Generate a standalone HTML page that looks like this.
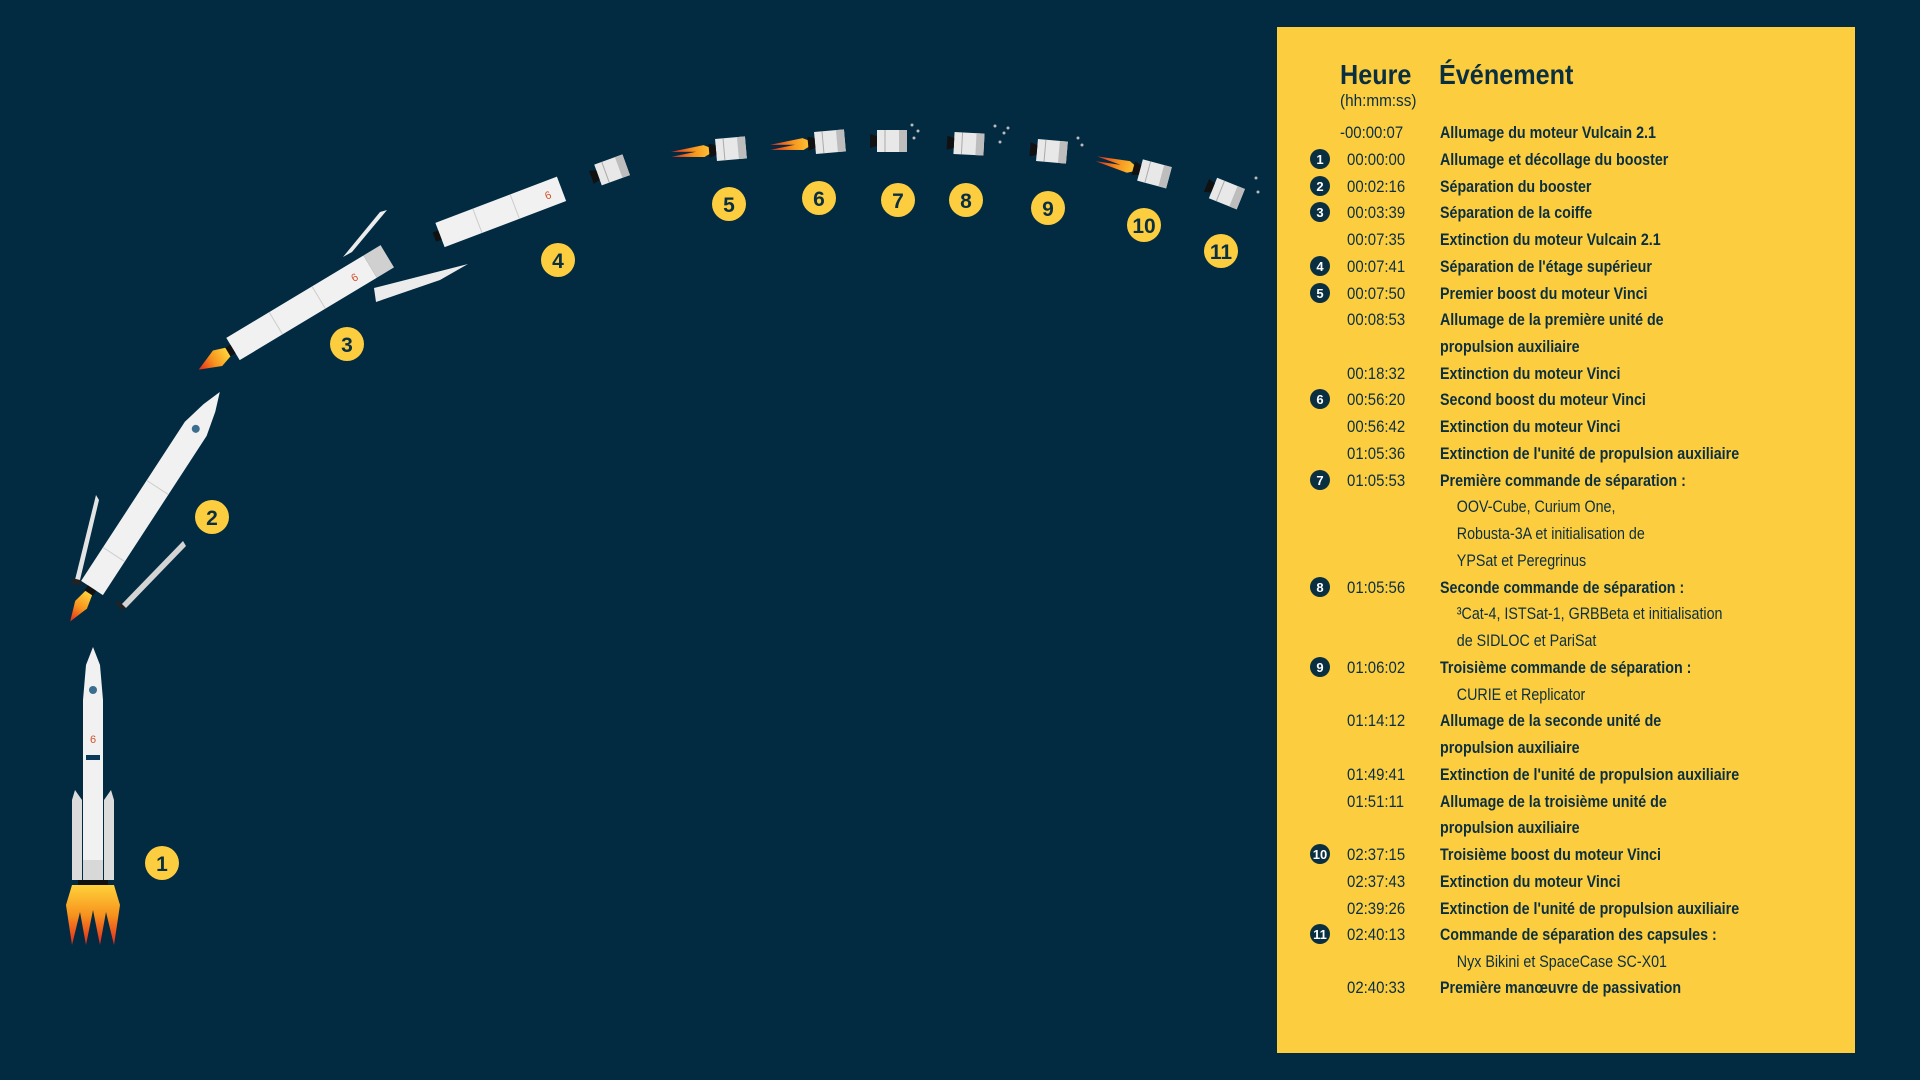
<!DOCTYPE html>
<html><head><meta charset="utf-8"><style>
html,body{margin:0;padding:0;background:#022b42;}
svg{display:block}
.t{font-family:"Liberation Sans",sans-serif;font-size:17px;fill:#0a2f40}
.b{font-weight:bold}
.n{font-family:"Liberation Sans",sans-serif;font-weight:bold;font-size:21px;fill:#0a2f40;text-anchor:middle}
.m{font-family:"Liberation Sans",sans-serif;font-weight:bold;font-size:13px;fill:#fff;text-anchor:middle}
</style></head><body>
<svg width="1920" height="1080" viewBox="0 0 1920 1080" xmlns="http://www.w3.org/2000/svg">
<defs>
<linearGradient id="fl" x1="0" y1="0" x2="0" y2="1"><stop offset="0" stop-color="#ffd23a"/><stop offset=".5" stop-color="#f7931e"/><stop offset="1" stop-color="#e4261c"/></linearGradient>
<linearGradient id="flh" x1="1" y1="0" x2="0" y2="0"><stop offset="0" stop-color="#ffd23a"/><stop offset=".5" stop-color="#f7931e"/><stop offset="1" stop-color="#e4261c"/></linearGradient>
<g id="us"><rect x="0" y="-11" width="30" height="22" fill="#e8e8e8"/><rect x="22" y="-11" width="8" height="22" fill="#bdbdbd"/><line x1="8" y1="-11" x2="8" y2="11" stroke="#aaa"/><polygon points="0,-5 -7,-7 -7,7 0,5" fill="#111"/></g>
<g id="fh"><polygon points="0,0 -12,-6 -45,-2 -20,0 -45,3 -12,6" fill="url(#flh)"/></g>
</defs>
<rect width="1920" height="1080" fill="#022b42"/>
<rect x="1277" y="27" width="578" height="1026" fill="#fdcd40"/>

<g>
<polygon points="93,647 86,665 83,700 83,870 103,870 103,700 100,665" fill="#f1f1f1"/>
<polygon points="75,790 72,800 72,880 82,880 82,800" fill="#dcdcdc"/>
<polygon points="111,790 114,800 114,880 104,880 104,800" fill="#dcdcdc"/>
<rect x="83" y="860" width="20" height="20" fill="#d8d8d8"/>
<circle cx="93" cy="690" r="4" fill="#3a6d8e"/>
<text x="93" y="743" font-family="Liberation Sans" font-size="11" fill="#d4502a" text-anchor="middle">6</text>
<rect x="86" y="755" width="14" height="5" fill="#0a3a5a"/>
<rect x="78" y="880" width="30" height="5" fill="#111"/>
<polygon points="72,885 66,905 72,945 80,912 86,945 93,910 100,945 106,912 114,945 120,905 114,885" fill="url(#fl)"/>
</g>
<circle cx="162" cy="863" r="17" fill="#fdcd40"/><text class="n" x="162" y="871">1</text>

<g transform="translate(92,588) rotate(-56.9)">
<polygon points="0,-13 190,-13 215,-7 234,0 215,7 190,13 0,13" fill="#f1f1f1"/>
<line x1="40" y1="-13" x2="40" y2="13" stroke="#ccc"/><line x1="120" y1="-13" x2="120" y2="13" stroke="#ccc"/>
<circle cx="190" cy="0" r="4" fill="#3a6d8e"/>
<rect x="-6" y="-5" width="6" height="10" fill="#111"/>
<polygon points="-6,-4 -20,-7 -40,0 -20,7 -6,4" fill="url(#flh)"/>
</g>
<polygon points="74,584 96,495 99,500 80,580" fill="#e4e4e4"/><polygon points="72,578 80,580 82,585 72,584" fill="#222"/>
<polygon points="120,606 183,541 186,546 126,608" fill="#d4d4d4"/><polygon points="118,600 126,608 122,610 116,604" fill="#222"/>
<circle cx="212" cy="517" r="17" fill="#fdcd40"/><text class="n" x="212" y="525">2</text>

<g transform="translate(233,349) rotate(-31)">
<rect x="0" y="-13" width="160" height="26" fill="#f1f1f1"/><rect x="160" y="-13" width="20" height="26" fill="#d0d0d0"/>
<line x1="50" y1="-13" x2="50" y2="13" stroke="#ccc"/><line x1="100" y1="-13" x2="100" y2="13" stroke="#ccc"/>
<text x="138" y="5" font-family="Liberation Sans" font-size="11" fill="#d4502a">6</text>
<rect x="-6" y="-5" width="6" height="10" fill="#111"/>
<polygon points="-6,-5 -18,-9 -40,0 -18,9 -6,5" fill="url(#flh)"/>
</g>
<polygon points="343,257 380,212 387,210 352,252" fill="#ececec"/>
<polygon points="374,288 468,264 440,280 376,302" fill="#ececec"/>
<circle cx="347" cy="344" r="17" fill="#fdcd40"/><text class="n" x="347" y="352">3</text>

<g transform="translate(440,235) rotate(-20.8)">
<rect x="0" y="-13" width="130" height="26" fill="#f1f1f1"/>
<line x1="40" y1="-13" x2="40" y2="13" stroke="#ccc"/><line x1="80" y1="-13" x2="80" y2="13" stroke="#ccc"/>
<text x="112" y="5" font-family="Liberation Sans" font-size="11" fill="#d4502a">6</text>
<rect x="-6" y="-5" width="6" height="10" fill="#111"/>
</g>
<g transform="translate(598,175) rotate(-20)"><use href="#us"/></g>
<circle cx="558" cy="260" r="17" fill="#fdcd40"/><text class="n" x="558" y="268">4</text>

<g transform="translate(716,150) rotate(-5)"><use href="#fh"/><use href="#us"/></g>
<g transform="translate(815,143) rotate(-5)"><use href="#fh"/><use href="#us"/></g>
<g transform="translate(877,141)"><use href="#us"/></g>
<circle cx="912" cy="125" r="1.5" fill="#bbb"/><circle cx="918" cy="131" r="1.5" fill="#bbb"/><circle cx="914" cy="138" r="1.5" fill="#bbb"/>
<g transform="translate(954,143) rotate(3)"><use href="#us"/></g>
<circle cx="995" cy="126" r="1.5" fill="#bbb"/><circle cx="1004" cy="133" r="1.5" fill="#bbb"/><circle cx="1000" cy="142" r="1.5" fill="#bbb"/><circle cx="1008" cy="128" r="1.5" fill="#bbb"/>
<g transform="translate(1037,150) rotate(5)"><use href="#us"/></g>
<circle cx="1078" cy="138" r="1.5" fill="#bbb"/><circle cx="1082" cy="145" r="1.5" fill="#bbb"/>
<g transform="translate(1140,170) rotate(15)"><use href="#fh"/><use href="#us"/></g>
<g transform="translate(1213,188) rotate(22)"><use href="#us"/></g>
<circle cx="1256" cy="178" r="1.5" fill="#bbb"/><circle cx="1258" cy="192" r="1.5" fill="#bbb"/>

<circle cx="729" cy="204" r="17" fill="#fdcd40"/><text class="n" x="729" y="212">5</text>
<circle cx="819" cy="198" r="17" fill="#fdcd40"/><text class="n" x="819" y="206">6</text>
<circle cx="898" cy="200" r="17" fill="#fdcd40"/><text class="n" x="898" y="208">7</text>
<circle cx="966" cy="200" r="17" fill="#fdcd40"/><text class="n" x="966" y="208">8</text>
<circle cx="1048" cy="208" r="17" fill="#fdcd40"/><text class="n" x="1048" y="216">9</text>
<circle cx="1144" cy="225" r="17" fill="#fdcd40"/><text class="n" x="1144" y="233">10</text>
<circle cx="1221" cy="251" r="17" fill="#fdcd40"/><text class="n" x="1221" y="259">11</text>

<g transform="translate(1340,0) scale(0.9,1)">
<text class="t b" x="0" y="84" style="font-size:28px">Heure</text>
<text class="t" x="0" y="106" style="font-size:17px">(hh:mm:ss)</text>
</g>
<g transform="translate(1439,0) scale(0.9,1)">
<text class="t b" x="0" y="84" style="font-size:28px">Événement</text>
</g>

<g>
<circle cx="1320" cy="159" r="10" fill="#0a2f40"/><text class="m" x="1320" y="164">1</text>
<circle cx="1320" cy="186" r="10" fill="#0a2f40"/><text class="m" x="1320" y="191">2</text>
<circle cx="1320" cy="212" r="10" fill="#0a2f40"/><text class="m" x="1320" y="217">3</text>
<circle cx="1320" cy="266" r="10" fill="#0a2f40"/><text class="m" x="1320" y="271">4</text>
<circle cx="1320" cy="293" r="10" fill="#0a2f40"/><text class="m" x="1320" y="298">5</text>
<circle cx="1320" cy="399" r="10" fill="#0a2f40"/><text class="m" x="1320" y="404">6</text>
<circle cx="1320" cy="480" r="10" fill="#0a2f40"/><text class="m" x="1320" y="485">7</text>
<circle cx="1320" cy="587" r="10" fill="#0a2f40"/><text class="m" x="1320" y="592">8</text>
<circle cx="1320" cy="667" r="10" fill="#0a2f40"/><text class="m" x="1320" y="672">9</text>
<circle cx="1320" cy="854" r="10" fill="#0a2f40"/><text class="m" x="1320" y="859">10</text>
<circle cx="1320" cy="934" r="10" fill="#0a2f40"/><text class="m" x="1320" y="939">11</text>
</g>

<g transform="translate(1347,0) scale(0.88,1)" class="t">
<text class="t" x="-8" y="138">-00:00:07</text>
<text class="t" x="0" y="165">00:00:00</text>
<text class="t" x="0" y="192">00:02:16</text>
<text class="t" x="0" y="218">00:03:39</text>
<text class="t" x="0" y="245">00:07:35</text>
<text class="t" x="0" y="272">00:07:41</text>
<text class="t" x="0" y="299">00:07:50</text>
<text class="t" x="0" y="325">00:08:53</text>
<text class="t" x="0" y="379">00:18:32</text>
<text class="t" x="0" y="405">00:56:20</text>
<text class="t" x="0" y="432">00:56:42</text>
<text class="t" x="0" y="459">01:05:36</text>
<text class="t" x="0" y="486">01:05:53</text>
<text class="t" x="0" y="593">01:05:56</text>
<text class="t" x="0" y="673">01:06:02</text>
<text class="t" x="0" y="726">01:14:12</text>
<text class="t" x="0" y="780">01:49:41</text>
<text class="t" x="0" y="807">01:51:11</text>
<text class="t" x="0" y="860">02:37:15</text>
<text class="t" x="0" y="887">02:37:43</text>
<text class="t" x="0" y="914">02:39:26</text>
<text class="t" x="0" y="940">02:40:13</text>
<text class="t" x="0" y="993">02:40:33</text>
</g>

<g transform="translate(1440,0) scale(0.84,1)">
<text class="t b" x="0" y="138">Allumage du moteur Vulcain 2.1</text>
<text class="t b" x="0" y="165">Allumage et décollage du booster</text>
<text class="t b" x="0" y="192">Séparation du booster</text>
<text class="t b" x="0" y="218">Séparation de la coiffe</text>
<text class="t b" x="0" y="245">Extinction du moteur Vulcain 2.1</text>
<text class="t b" x="0" y="272">Séparation de l'étage supérieur</text>
<text class="t b" x="0" y="299">Premier boost du moteur Vinci</text>
<text class="t b" x="0" y="325">Allumage de la première unité de</text>
<text class="t b" x="0" y="352">propulsion auxiliaire</text>
<text class="t b" x="0" y="379">Extinction du moteur Vinci</text>
<text class="t b" x="0" y="405">Second boost du moteur Vinci</text>
<text class="t b" x="0" y="432">Extinction du moteur Vinci</text>
<text class="t b" x="0" y="459">Extinction de l'unité de propulsion auxiliaire</text>
<text class="t b" x="0" y="486">Première commande de séparation :</text>
<text class="t" x="20" y="512">OOV-Cube, Curium One,</text>
<text class="t" x="20" y="539">Robusta-3A et initialisation de</text>
<text class="t" x="20" y="566">YPSat et Peregrinus</text>
<text class="t b" x="0" y="593">Seconde commande de séparation :</text>
<text class="t" x="20" y="619">³Cat-4, ISTSat-1, GRBBeta et initialisation</text>
<text class="t" x="20" y="646">de SIDLOC et PariSat</text>
<text class="t b" x="0" y="673">Troisième commande de séparation :</text>
<text class="t" x="20" y="700">CURIE et Replicator</text>
<text class="t b" x="0" y="726">Allumage de la seconde unité de</text>
<text class="t b" x="0" y="753">propulsion auxiliaire</text>
<text class="t b" x="0" y="780">Extinction de l'unité de propulsion auxiliaire</text>
<text class="t b" x="0" y="807">Allumage de la troisième unité de</text>
<text class="t b" x="0" y="833">propulsion auxiliaire</text>
<text class="t b" x="0" y="860">Troisième boost du moteur Vinci</text>
<text class="t b" x="0" y="887">Extinction du moteur Vinci</text>
<text class="t b" x="0" y="914">Extinction de l'unité de propulsion auxiliaire</text>
<text class="t b" x="0" y="940">Commande de séparation des capsules :</text>
<text class="t" x="20" y="967">Nyx Bikini et SpaceCase SC-X01</text>
<text class="t b" x="0" y="993">Première manœuvre de passivation</text>
</g>
</svg>
</body></html>
